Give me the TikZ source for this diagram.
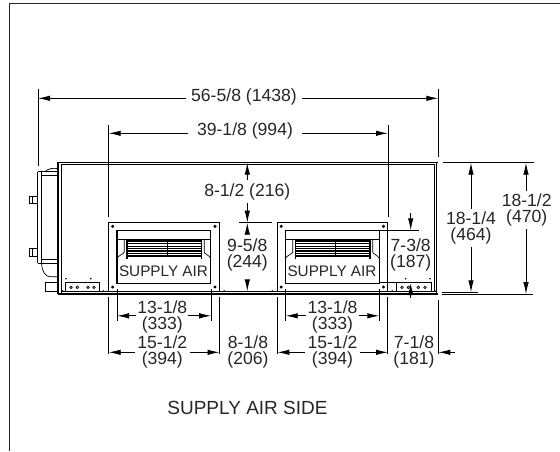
\documentclass[tikz,border=0pt]{standalone}
\usepackage{fontspec}
\setmainfont{Liberation Sans}
\usetikzlibrary{arrows.meta}
\tikzset{
  px/.style={x=1pt,y=-1pt},
  frameline/.style={line width=1pt,draw=black!85},
  thin line/.style={line width=0.7pt,draw=black},
  mid line/.style={line width=1pt,draw=black},
  heavy line/.style={line width=1.35pt,draw=black},
  extline/.style={line width=0.9pt,draw=black},
  dimarrow/.style={line width=0.9pt,draw=black,-{Latex[length=12pt,width=5.5pt]}},
  dimtext/.style={inner sep=1pt,align=center,text=black!85,font=\fontsize{17.6}{16}\selectfont},
  tightdim/.style={dimtext,font=\fontsize{17.6}{15.4}\selectfont},
  bolt/.style={fill=black,draw=none},
}
\newcommand{\supplybox}[1]{%
  \begin{scope}[xshift=#1pt]
    \draw[mid line] (108.7,222.7) rectangle (219.3,291.3);
    \foreach \bx/\by in {112.7/226.3,215/226.3,112.7/287,215/287}
      \fill[bolt] (\bx,\by) circle (1.7);
    \draw[heavy line] (117,230.3) rectangle (210.7,283.3);
    \draw[heavy line] (117,239.6) -- (210.7,239.6);
    \foreach \ly/\lw in {241.2/1.6,243.5/1.4,246/1,248.5/1.4,251/1.4,253.5/1.4,256/1.4}
      \draw[line width=\lw pt] (126.7,\ly) -- (201.7,\ly);
    \draw[mid line] (167.3,240) -- (167.3,257);
    \draw[heavy line] (126.9,240) -- (126.9,258.5);
    \draw[heavy line] (201.5,240) -- (201.5,258.5);
    \draw[thin line] (124.3,240) -- (124.3,251.7) .. controls (124.3,254) and (119,255) .. (117,258);
    \draw[thin line] (204.2,240) -- (204.2,251.7) .. controls (204.2,254) and (208.7,255) .. (210.7,258);
  \end{scope}}
\begin{document}
\begin{tikzpicture}[px]
\useasboundingbox (0,0) rectangle (560,451);
% frame
\draw[frameline] (9,451) -- (9,3.5) -- (560,3.5);
% extension coordinates
\coordinate (xa) at (38,98.3);
\coordinate (xb) at (108.7,133.3);
\coordinate (xc) at (388,133.3);
\coordinate (xd) at (438.3,98.3);
\coordinate (xe) at (117,315.8);
\coordinate (xf) at (211.2,315.8);
\coordinate (xg) at (219.5,352.3);
\coordinate (xh) at (277.3,352.3);
\coordinate (xi) at (285.7,315.8);
\coordinate (xj) at (379.3,315.8);
\coordinate (yt) at (471,162.7);
\coordinate (yb) at (471,292.3);
\coordinate (yt2) at (526,162.7);
\coordinate (yb2) at (526,294.2);
\coordinate (ya) at (247.3,162.7);
\coordinate (yc) at (247.3,222.7);
\coordinate (yd) at (247.3,291.3);
\coordinate (ye) at (410.7,230.3);
\coordinate (yf) at (410.7,283);
\coordinate (xk) at (438.3,352.3);
% extension lines
\draw[extline] (xa)++(0,-9) -- (38,166);
\draw[extline] (xb)++(0,-8) -- (108.7,216.7);
\draw[extline] (xc)++(0,-8) -- (388,216.7);
\draw[extline] (xd)++(0,-9) -- (438.3,157);
\draw[extline] (108.7,296.7) -- (108.7,353.5);
\draw[extline] (219.5,296.7) -- (219.5,353.5);
\draw[extline] (277.3,296.7) -- (277.3,353.5);
\draw[extline] (387.8,296.7) -- (387.8,353.5);
\draw[extline] (438.3,300) -- (438.3,353.5);
\draw[extline] (117,289.3) -- (117,320.7);
\draw[extline] (211.2,289.3) -- (211.2,320.7);
\draw[extline] (285.7,289.3) -- (285.7,320.7);
\draw[extline] (379.3,289.3) -- (379.3,320.7);
\draw[extline] (443,162.5) -- (534,162.5);
\draw[extline] (442,292.3) -- (478,292.3);
\draw[extline] (442,294.2) -- (533,294.2);
\draw[extline] (239,222.7) -- (271.7,222.7);
\draw[extline] (239,291.3) -- (272,291.3);
\draw[extline] (379,230.3) -- (419,230.3);
\draw[extline] (379,282.3) -- (419,282.3);
% body
\draw[heavy line] (58,294) -- (58,162.7) -- (438,162.7);
\draw[mid line] (61,294) -- (61,164.8);
\draw[thin line] (61,164.8) -- (434,164.8) -- (434,291.7);
\draw[heavy line] (436.8,162.7) -- (436.8,294);
\draw[heavy line] (58,294) -- (438,294);
\draw[thin line] (61,291.7) -- (436,291.7);
% coil side
\draw[thin line] (37.7,171.7) -- (37.7,263.3);
\draw[mid line] (41.3,171.7) -- (41.3,263.3);
\draw[heavy line] (37.7,171.7) -- (58,171.7);
\draw[thin line] (41.3,175) -- (58,175);
\draw[thin line] (41.3,259) -- (58,259);
\draw[heavy line] (37.7,263.3) -- (58,263.3);
\draw[thin line] (45,171.7) .. controls (48,168.5) and (52,168) .. (58,168.5);
\draw[mid line] (29.5,196) rectangle (37.7,203.3);
\draw[mid line] (29.5,248.7) rectangle (37.7,256.7);
\draw[thin line] (32,196) -- (32,203.3) (32,248.7) -- (32,256.7);
\draw[thin line] (41.7,263.5) .. controls (41.7,272) and (46,276.7) .. (50,276.7) -- (58,276.7);
\draw[thin line] (58,282.7) -- (45,282.7) -- (45,291.7) -- (58,291.7);
% control boxes
\draw[thin line,line width=0.9pt] (65.7,282.3) rectangle (99.3,291.7);
\foreach \cx in {71,77.3,88,94} \draw[thin line] (\cx,287.3) circle (1.3);
\draw[thin line,line width=0.9pt] (396.7,282) rectangle (431,291.7);
\foreach \cx in {402,408.3,418.3,425} \draw[thin line] (\cx,287.3) circle (1.3);
\foreach \dx/\dy in {66/278.7,90.7/278.7,405.7/278.7,430/278.7,62.7/291,103.3/291,224.3/291,272.3/291,392.3/291,435/291}
  \fill[bolt] (\dx,\dy) circle (0.9);
% supply openings
\supplybox{0}
\supplybox{168.5}
\node[dimtext,font=\fontsize{15.3}{16}\selectfont] (sa) at (163.5,271.7) {SUPPLY AIR};
\node[dimtext,font=\fontsize{15.3}{16}\selectfont] (sb) at (332,271.7) {SUPPLY AIR};
% dimension texts
\node[dimtext,inner xsep=4.5pt] (d1) at (244,97.3) {56-5/8 (1438)};
\node[dimtext,inner xsep=8.5pt] (d2) at (245,131) {39-1/8 (994)};
\node[dimtext,inner ysep=3pt] (d3) at (247.3,191.7) {8-1/2 (216)};
\node[dimtext,inner ysep=8pt] (d4) at (247.3,255.2) {9-5/8\\(244)};
\node[dimtext,inner ysep=1pt] (d5) at (410.7,255) {7-3/8\\(187)};
\node[dimtext,inner ysep=3pt] (d6) at (471,228) {18-1/4\\(464)};
\node[dimtext,inner ysep=3pt] (d7) at (526.7,210) {18-1/2\\(470)};
\node[tightdim] (d8) at (162.3,316.8) {13-1/8\\(333)};
\node[tightdim,inner xsep=2.5pt] (d9) at (162.3,351.8) {15-1/2\\(394)};
\node[tightdim] (d10) at (332.5,316.8) {13-1/8\\(333)};
\node[tightdim,inner xsep=2.5pt] (d11) at (332.5,351.8) {15-1/2\\(394)};
\node[tightdim] (d12) at (248,351.8) {8-1/8\\(206)};
\node[tightdim] (d13) at (414,351.8) {7-1/8\\(181)};
\node[dimtext,font=\fontsize{19}{20}\selectfont] (title) at (247.5,408) {SUPPLY AIR SIDE};
% dimension arrows
\draw[dimarrow] (d1.west |- xa) -- (xa);
\draw[dimarrow] (d1.east |- xd) -- (xd);
\draw[dimarrow] (d2.west |- xb) -- (xb);
\draw[dimarrow] (d2.east |- xc) -- (xc);
\draw[dimarrow] (d3.north) -- (ya);
\draw[dimarrow] (d3.south) -- (yc);
\draw[dimarrow] (d4.north) -- (yc);
\draw[dimarrow] (d4.south) -- (yd);
\coordinate (ye0) at (410.7,213);
\coordinate (yf0) at (410.7,298);
\draw[dimarrow] (ye0) -- (ye);
\draw[dimarrow] (yf0) -- (yf);
\draw[dimarrow] (d6.north) -- (yt);
\draw[dimarrow] (d6.south) -- (yb);
\draw[dimarrow] (d7.north -| yt2) -- (yt2);
\draw[dimarrow] (d7.south -| yt2) -- (yb2);
\draw[dimarrow] (d8.west |- xe) -- (xe);
\draw[dimarrow] (d8.east |- xf) -- (xf);
\draw[dimarrow] (d10.west |- xi) -- (xi);
\draw[dimarrow] (d10.east |- xj) -- (xj);
\draw[dimarrow] (d9.west |- xg) -- (xb |- xg);
\draw[dimarrow] (d9.east |- xg) -- (xg);
\draw[dimarrow] (d11.west |- xh) -- (xh);
\draw[dimarrow] (d11.east |- xh) -- (xc |- xh);
\coordinate (xm) at (455,352.3);
\draw[dimarrow] (xm) -- (xk);
\end{tikzpicture}
\end{document}
